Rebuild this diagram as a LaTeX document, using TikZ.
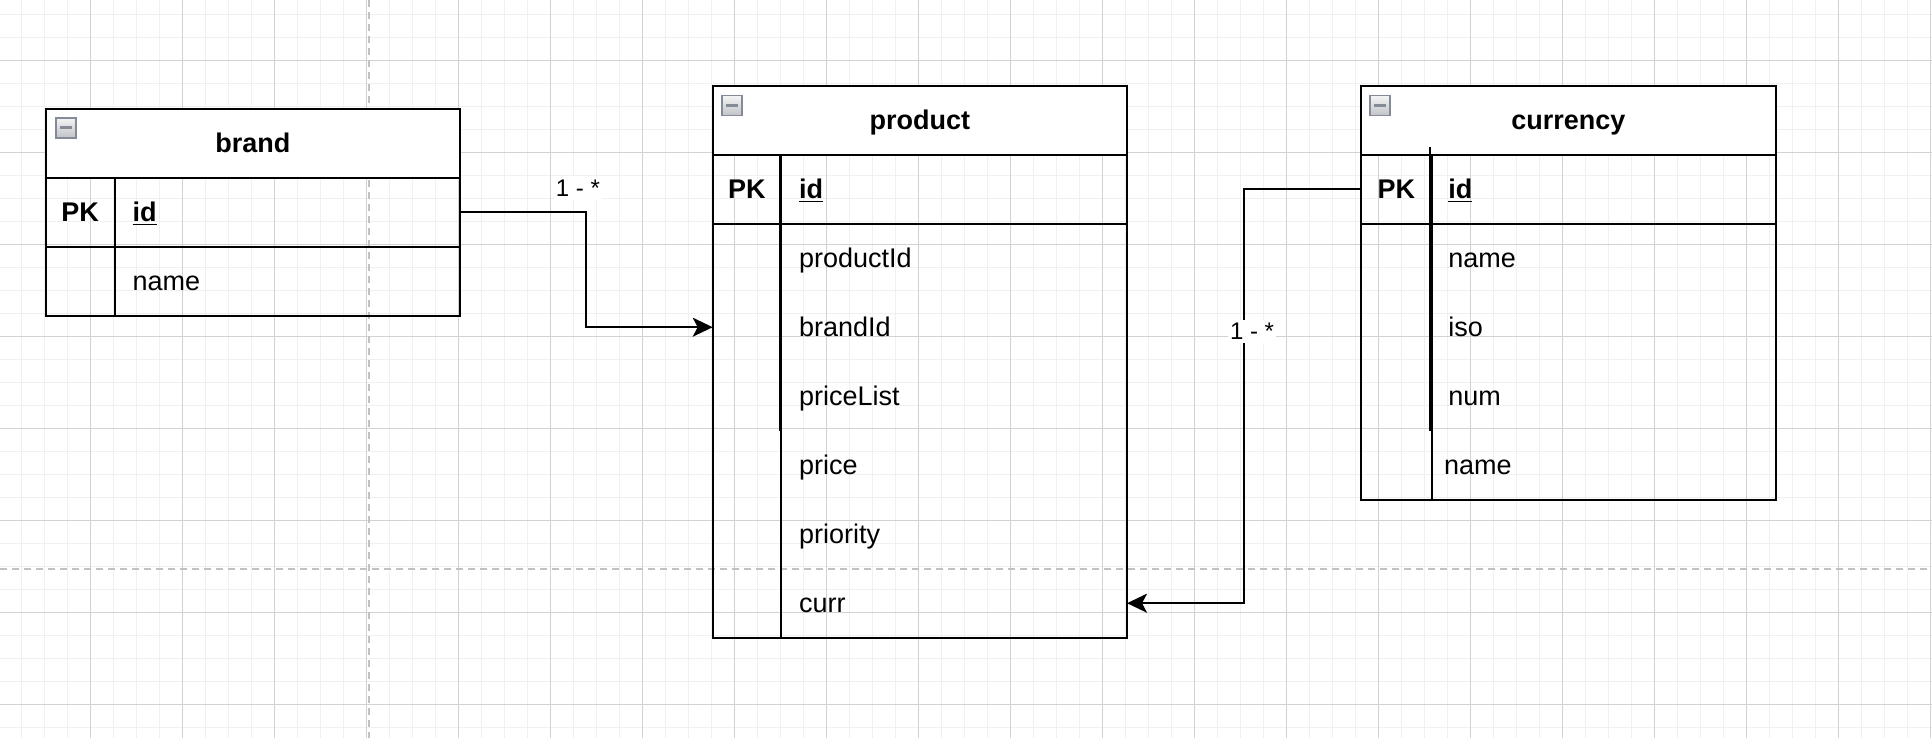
\documentclass[tikz,border=0pt]{standalone}
\usepackage{fontspec}
\setmainfont{Liberation Sans}
\usetikzlibrary{arrows.meta}

\definecolor{gridminor}{HTML}{F0F0F0}
\definecolor{gridmajor}{HTML}{D2D2D2}
\definecolor{pagebreakgray}{HTML}{C2C2C2}
\definecolor{toggleedge}{HTML}{858A99}
\definecolor{toggletop}{HTML}{F4F4F4}
\definecolor{togglebottom}{HTML}{C2C3C8}

\newcommand{\cellfont}{\fontsize{13.5pt}{16pt}\selectfont}
\newcommand{\cardfont}{\fontsize{12pt}{14pt}\selectfont}
\newcommand{\keyfield}[1]{\textbf{\underline{#1}}}

\tikzset{
  gridfine/.style={draw=gridminor, line width=0.5pt},
  gridcoarse/.style={draw=gridmajor, line width=0.5pt},
  pagebreak/.style={draw=pagebreakgray, line width=1pt, dash pattern=on 3.5pt off 2.5pt},
  tableframe/.style={draw, line width=1.1pt, inner sep=0pt, outer sep=0pt, anchor=north west},
  tablehead/.style={tableframe, fill=white, minimum height=34.5pt,
    font=\cellfont\bfseries, text height=9.2pt, text depth=0pt},
  keycell/.style={inner sep=0pt, outer sep=0pt, anchor=north west, minimum height=34.5pt,
    font=\cellfont\bfseries, text height=9.2pt, text depth=0pt},
  fieldcell/.style={inner sep=0pt, inner xsep=9pt, outer sep=0pt, anchor=north west,
    minimum height=34.5pt, align=left, font=\cellfont, text height=9.2pt, text depth=0pt},
  rule/.style={line width=1.1pt},
  relation/.style={line width=1pt, -{Stealth[length=10pt, width=9.5pt, inset=2.5pt]}},
  cardinality/.style={fill=white, inner xsep=1.2pt, inner ysep=1pt, font=\cardfont,
    text height=8.6pt, text depth=0pt, minimum height=11.5pt},
  toggle/.style={draw=toggleedge, line width=0.8pt, top color=toggletop, bottom color=togglebottom,
    minimum size=10pt, inner sep=0pt,
    path picture={\draw[line width=1.4pt]
      ([xshift=-3pt]path picture bounding box.center) -- ([xshift=3pt]path picture bounding box.center);}},
}

\begin{document}
\begin{tikzpicture}[x=0.5pt, y=-0.5pt]
\useasboundingbox (0,0) rectangle (1932,738);
\fill[white] (0,0) rectangle (1932,738);

% background grid and page breaks
\begin{scope}
  \clip (0,0) rectangle (1932,738);
  \foreach \i in {0,...,83} \draw[gridfine] (21.5+23*\i,0) -- (21.5+23*\i,738);
  \foreach \j in {0,...,31} \draw[gridfine] (0,14.3+23*\j) -- (1932,14.3+23*\j);
  \foreach \i in {0,...,20} \draw[gridcoarse] (90.5+92*\i,0) -- (90.5+92*\i,738);
  \foreach \j in {0,...,7} \draw[gridcoarse] (0,60.3+92*\j) -- (1932,60.3+92*\j);
  \draw[pagebreak] (369,0) -- (369,738);
  \draw[pagebreak] (0,569) -- (1932,569);
\end{scope}

% ---------- brand ----------
\node[tableframe, minimum width=207.15pt, minimum height=103.5pt] (brand) at (45.7,108.7) {};
\node[tablehead, minimum width=207.15pt] (brand-head) at (45.7,108.7) {brand};
\node[toggle] (brand-toggle) at (65.8,127.8) {};
\node[keycell, minimum width=34.5pt] (brand-pk) at (45.7,177.7) {PK};
\node[fieldcell, text width=154.65pt] (brand-id) at (114.7,177.7) {\keyfield{id}};
\node[fieldcell, text width=154.65pt] (brand-name) at (114.7,246.7) {name};
\draw[rule] (brand-pk.south west) -- (brand-id.south east);
\draw[rule] (brand-pk.north east) -- (brand-pk.north east |- brand.south);

% ---------- product ----------
\node[tableframe, minimum width=207.15pt, minimum height=276pt] (product) at (712.7,85.7) {};
\node[tablehead, minimum width=207.15pt] (product-head) at (712.7,85.7) {product};
\node[toggle] (product-toggle) at (732,105.5) {};
\node[keycell, minimum width=34.15pt] (product-pk) at (712.7,154.7) {PK};
\node[fieldcell, text width=155pt] (product-id) at (781,154.7) {\keyfield{id}};
\node[fieldcell, text width=155pt] (product-productId) at (781,223.7) {productId};
\node[fieldcell, text width=155pt] (product-brandId) at (781,292.7) {brandId};
\node[fieldcell, text width=155pt] (product-priceList) at (781,361.7) {priceList};
\node[fieldcell, text width=155pt] (product-price) at (781,430.7) {price};
\node[fieldcell, text width=155pt] (product-priority) at (781,499.7) {priority};
\node[fieldcell, text width=155pt] (product-curr) at (781,568.7) {curr};
\draw[rule] (product-pk.south west) -- (product-id.south east);
\draw[rule] (780.2,154.7) -- (780.2,430.7);
\draw[rule] (product-pk.north east) -- (product-pk.north east |- product.south);

% ---------- currency ----------
\node[tableframe, minimum width=207.35pt, minimum height=207pt] (currency) at (1361,85.7) {};
\node[tablehead, minimum width=207.35pt] (currency-head) at (1361,85.7) {currency};
\node[toggle] (currency-toggle) at (1380,105.5) {};
\node[keycell, minimum width=35.35pt] (currency-pk) at (1361,154.7) {PK};
\node[fieldcell, inner xsep=8.3pt, text width=155.4pt] (currency-id) at (1431.7,154.7) {\keyfield{id}};
\node[fieldcell, inner xsep=8.3pt, text width=155.4pt] (currency-name) at (1431.7,223.7) {name};
\node[fieldcell, inner xsep=8.3pt, text width=155.4pt] (currency-iso) at (1431.7,292.7) {iso};
\node[fieldcell, inner xsep=8.3pt, text width=155.4pt] (currency-num) at (1431.7,361.7) {num};
\node[fieldcell, inner xsep=6.15pt, text width=159.7pt] (currency-name2) at (1431.7,430.7) {name};
\draw[rule] (currency-pk.south west) -- (currency-id.south east);
\draw[rule] (1429.9,147.3) -- (1429.9,430.7);
\draw[rule] (currency-pk.north east) -- (currency-pk.north east |- currency.south);

% ---------- relations ----------
\coordinate (bend-brand) at (586,270);
\coordinate (bend-currency) at (1244,400);
\draw[relation] (brand-id.east) -- (brand-id.east -| bend-brand) |- (product.west |- product-brandId.west);
\draw[relation] (currency-pk.west) -- (currency-pk.west -| bend-currency) |- (product-curr.east);
\node[cardinality] (card-brand) at (578,188) {1 - *};
\node[cardinality] (card-currency) at (1252,331) {1 - *};
\end{tikzpicture}
\end{document}
